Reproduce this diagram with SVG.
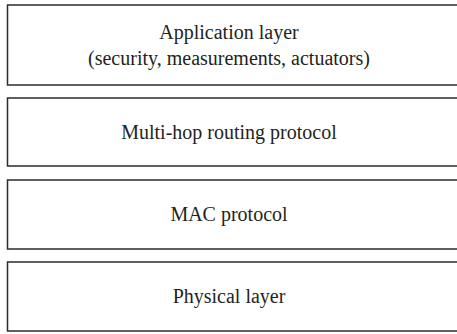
<svg xmlns="http://www.w3.org/2000/svg" width="457" height="334" viewBox="0 0 457 334">
  <style>
    .layer { fill: #ffffff; stroke: #2b2b2b; stroke-width: 1.5; }
    .label { font-family: "Liberation Serif", "Times New Roman", serif; font-size: 20px; fill: #231f20; text-anchor: middle; }
  </style>
  <rect width="457" height="334" fill="#ffffff"/>
  <g id="application-layer">
    <rect class="layer" x="7.5" y="5" width="460" height="80"/>
    <text class="label" x="229" y="39">Application layer</text>
    <text class="label" x="229" y="65">(security, measurements, actuators)</text>
  </g>
  <g id="routing-layer">
    <rect class="layer" x="7.5" y="98" width="460" height="68"/>
    <text class="label" x="229" y="139">Multi-hop routing protocol</text>
  </g>
  <g id="mac-layer">
    <rect class="layer" x="7.5" y="180" width="460" height="69"/>
    <text class="label" x="229" y="221">MAC protocol</text>
  </g>
  <g id="physical-layer">
    <rect class="layer" x="7.5" y="262" width="460" height="69"/>
    <text class="label" x="229" y="303">Physical layer</text>
  </g>
  <g id="connectors"></g>
</svg>
